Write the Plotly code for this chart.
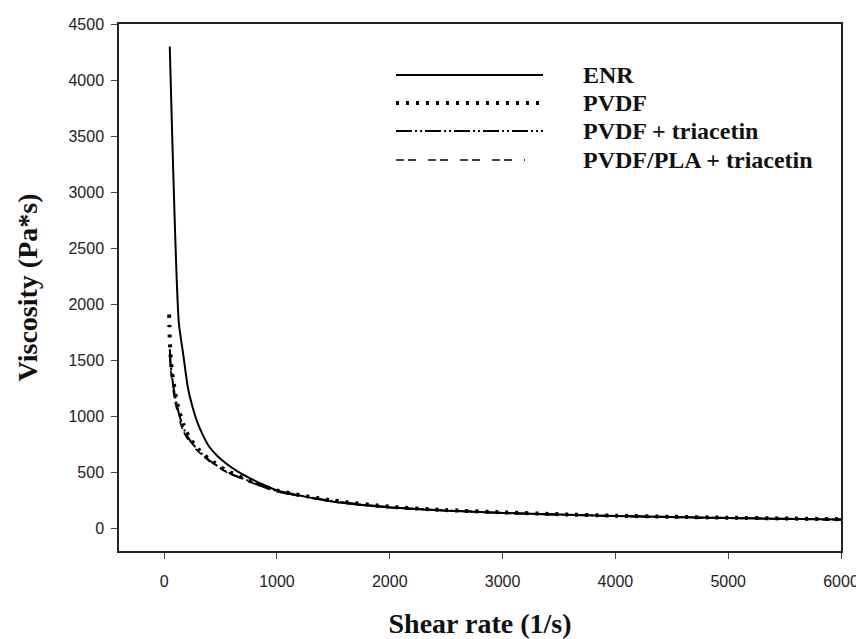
import plotly.graph_objects as go

# ---- data ----
enr_shear = [50, 130, 170, 210, 250, 290, 340, 400, 470, 550, 650, 750, 870, 1000, 1250, 1500, 2000, 2500, 3000, 3500, 4000, 4500, 5000, 5500, 6000]
enr_visc = [4300, 1840, 1550, 1260, 1090, 960, 840, 730, 650, 580, 510, 455, 395, 340, 285, 240, 190, 160, 140, 125, 112, 103, 95, 88, 80]

pvdf_shear = [45, 47, 50, 55, 60, 70, 85, 100, 130, 170, 220, 300, 400, 550, 750, 1000, 1500, 2000, 2500, 3000, 3500, 4000, 4500, 5000, 5500, 6000]
pvdf_visc = [1910, 1800, 1690, 1590, 1500, 1400, 1300, 1200, 1060, 930, 820, 710, 620, 520, 430, 340, 250, 195, 165, 145, 128, 115, 105, 97, 90, 84]

tri_shear = [50, 60, 80, 100, 130, 170, 220, 300, 400, 550, 750, 1000, 1500, 2000, 3000, 4000, 5000, 6000]
tri_visc = [1600, 1450, 1280, 1170, 1030, 900, 800, 700, 610, 510, 425, 335, 245, 190, 140, 112, 94, 80]

pla_shear = [50, 60, 80, 100, 130, 170, 220, 300, 400, 550, 750, 1000, 1500, 2000, 3000, 4000, 5000, 6000]
pla_visc = [1520, 1400, 1230, 1120, 990, 870, 780, 690, 600, 505, 420, 330, 240, 187, 138, 110, 92, 78]

series_names = ["ENR", "PVDF", "PVDF + triacetin", "PVDF/PLA + triacetin"]
x_ticks = [0, 1000, 2000, 3000, 4000, 5000, 6000]
y_ticks = [0, 500, 1000, 1500, 2000, 2500, 3000, 3500, 4000, 4500]

# ---- styles ----
styles = [
    dict(color="black", width=2, dash="solid"),
    dict(color="black", width=4, dash="3px,7px"),
    dict(color="black", width=2, dash="16px,3px,2px,3px,2px,3px"),
    dict(color="black", width=1.6, dash="8px,4px,8px,12px"),
]

fig = go.Figure()
data = [(enr_shear, enr_visc), (pvdf_shear, pvdf_visc), (tri_shear, tri_visc), (pla_shear, pla_visc)]
for (xs, ys), name, st in zip(data, series_names, styles):
    fig.add_trace(go.Scatter(x=xs, y=ys, mode="lines", name=name, line=st,
                             line_shape="spline", line_smoothing=0.6, showlegend=False))

# ---- hand-drawn legend (long line samples like the reference) ----
L, R, T, B = 119, 841, 24, 551
W, H = R - L, B - T
def px(x):
    return (x - L) / W
def py(y):
    return (B - y) / H

rows = [75, 103, 131, 160]
ends = [543, 543, 543, 525]
for name, st, yy, xe in zip(series_names, styles, rows, ends):
    fig.add_shape(type="line", xref="paper", yref="paper",
                  x0=px(396), x1=px(xe), y0=py(yy), y1=py(yy),
                  line=dict(color="black", width=st["width"], dash=st["dash"]))
    fig.add_annotation(xref="paper", yref="paper", x=px(581), y=py(yy),
                       text="<b>" + name + "</b>", showarrow=False, xanchor="left", yanchor="middle",
                       font=dict(family="Liberation Serif", size=24, color="#111"))

fig.update_layout(
    template="none",
    width=856, height=631,
    margin=dict(l=111, r=23, t=16, b=88, autoexpand=False),
    paper_bgcolor="white", plot_bgcolor="white",
    font=dict(family="Liberation Sans, Arial", size=16, color="#222"),
)
fig.update_xaxes(range=[-400, 6000], tickvals=x_ticks, ticks="outside", ticklen=6,
                 ticklabelstandoff=9, automargin=False, ticklabeloverflow="allow",
                 showline=True, linecolor="#222", linewidth=1.5, mirror=True,
                 showgrid=False, zeroline=False,
                 tickfont=dict(family="Liberation Sans, Arial", size=16, color="#222"),
                 title=dict(text="<b>Shear rate (1/s)</b>", standoff=28,
                            font=dict(family="Liberation Serif", size=28, color="#111")))
fig.update_yaxes(range=[-200, 4500], tickvals=y_ticks, ticks="outside", ticklen=6,
                 ticklabelstandoff=4, automargin=False, ticklabeloverflow="allow",
                 showline=True, linecolor="#222", linewidth=1.5, mirror=True,
                 showgrid=False, zeroline=False,
                 tickfont=dict(family="Liberation Sans, Arial", size=16, color="#222"),
                 title=dict(text="<b>Viscosity (Pa*s)</b>", standoff=23,
                            font=dict(family="Liberation Serif", size=28, color="#111")))

fig.write_html("out.html")
